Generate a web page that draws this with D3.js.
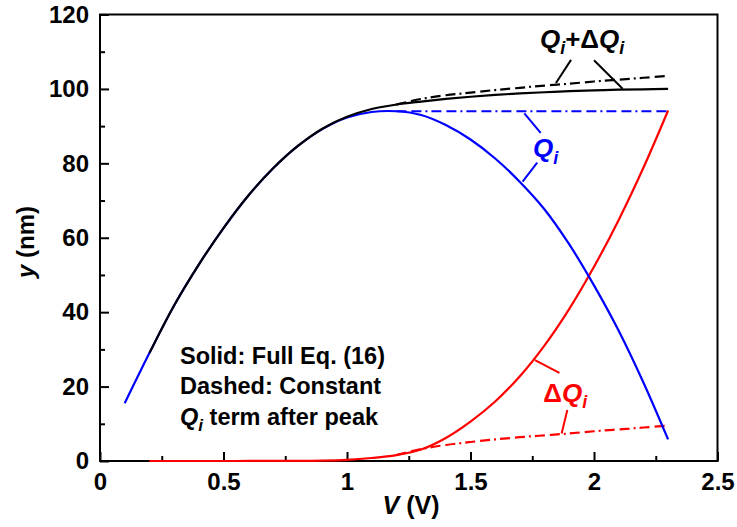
<!DOCTYPE html>
<html>
<head>
<meta charset="utf-8">
<script src="https://cdn.jsdelivr.net/npm/d3@7"></script>
<style>
  html, body { margin: 0; padding: 0; background: #fff; }
  svg { display: block; }
  text { font-family: "Liberation Sans", Arial, Helvetica, sans-serif; font-weight: bold; }
</style>
</head>
<body>
<svg id="chart" width="737" height="527"></svg>
<script>
// Voltage samples (V)
const vAll = [0.1, 0.2, 0.3, 0.4, 0.5, 0.6, 0.7, 0.8, 0.9, 1.0, 1.1, 1.2,
              1.3, 1.4, 1.5, 1.6, 1.7, 1.8, 1.9, 2.0, 2.1, 2.2, 2.3];
const vSum = [0.2, 0.3, 0.4, 0.5, 0.6, 0.7, 0.8, 0.9, 1.0, 1.1, 1.2,
              1.3, 1.4, 1.5, 1.6, 1.7, 1.8, 1.9, 2.0, 2.1, 2.2, 2.3];
const vPeak = [1.2, 1.3, 1.4, 1.5, 1.6, 1.7, 1.8, 1.9, 2.0, 2.1, 2.2, 2.3];

// Q_i term, full Eq. (16)  (nm)
const qi = [15.5, 29.0, 41.8, 52.8, 62.6, 71.3, 78.6, 84.6, 89.2, 92.3, 93.8, 94.0,
            93.0, 90.3, 86.4, 81.3, 75.0, 67.6, 58.2, 47.2, 35.0, 21.1, 5.8];
// ΔQ_i term, full Eq. (16)
const dqi = [0.0, 0.0, 0.0, 0.0, 0.01, 0.02, 0.05, 0.1, 0.3, 0.8, 1.6,
             3.1, 6.2, 10.6, 16.0, 22.8, 31.1, 40.9, 52.2, 64.8, 78.8, 94.2];
// Q_i + ΔQ_i, full Eq. (16)
const total = [29.0, 41.8, 52.8, 62.6, 71.3, 78.6, 84.6, 89.3, 92.5, 94.6, 95.8,
               96.6, 97.3, 97.9, 98.4, 98.8, 99.1, 99.4, 99.6, 99.8, 99.9, 100.0];

// Constant Q_i after the peak
const vConst = [1.2, 2.3];
const qiConst = [94.0, 94.0];
const dqiConst = [1.6, 3.2, 4.3, 5.1, 5.8, 6.4, 6.9, 7.4, 8.0, 8.5, 9.0, 9.5];
const totalConst = [95.8, 97.3, 98.3, 99.0, 99.7, 100.3, 100.9, 101.4, 102.0, 102.5, 103.0, 103.5];

// Axis ticks
const xTicks = [0, 0.5, 1, 1.5, 2, 2.5];
const xMinor = [0.25, 0.75, 1.25, 1.75, 2.25];
const yTicks = [0, 20, 40, 60, 80, 100, 120];
const yMinor = [10, 30, 50, 70, 90, 110];

const svg = d3.select("#chart");
const plotL = 100, plotR = 717.5, plotT = 14.5, plotB = 461;

const x = d3.scaleLinear().domain([0, 2.5]).range([plotL, plotR]);
const y = d3.scaleLinear().domain([0, 120]).range([plotB, plotT]);

const pts = (xs, ys) => xs.map((v, i) => [v, ys[i]]);
const line = d3.line().x(d => x(d[0])).y(d => y(d[1])).curve(d3.curveCatmullRom.alpha(0.5));
const dash = "10,5,10,4,2,4";

function curve(data, color, dashed) {
  svg.append("path")
    .attr("d", line(data))
    .attr("fill", "none")
    .attr("stroke", color)
    .attr("stroke-width", 2.2)
    .attr("stroke-dasharray", dashed ? dash : null)
    .attr("stroke-linejoin", "round");
}

// Axes: ticks point inward, labels outside
const xAxis = svg.append("g").attr("transform", `translate(0,${plotB})`)
  .call(d3.axisBottom(x).tickValues(xTicks).tickSizeInner(-9).tickSizeOuter(0)
        .tickPadding(12).tickFormat(d3.format("")));
const xAxisMinor = svg.append("g").attr("transform", `translate(0,${plotB})`)
  .call(d3.axisBottom(x).tickValues(xMinor).tickSizeInner(-5).tickSizeOuter(0).tickFormat(""));
const yAxis = svg.append("g").attr("transform", `translate(${plotL},0)`)
  .call(d3.axisLeft(y).tickValues(yTicks).tickSizeInner(-9).tickSizeOuter(0)
        .tickPadding(11).tickFormat(d3.format("")));
const yAxisMinor = svg.append("g").attr("transform", `translate(${plotL},0)`)
  .call(d3.axisLeft(y).tickValues(yMinor).tickSizeInner(-5).tickSizeOuter(0).tickFormat(""));

[xAxis, xAxisMinor, yAxis, yAxisMinor].forEach(g => {
  g.select(".domain").remove();
  g.selectAll(".tick line").attr("stroke", "#000").attr("stroke-width", 2);
  g.selectAll(".tick text").attr("fill", "#000")
    .style("font-size", "24px").style("font-weight", "bold")
    .style("font-family", '"Liberation Sans", Arial, Helvetica, sans-serif');
});

// Plot frame
svg.append("rect")
  .attr("x", plotL).attr("y", plotT)
  .attr("width", plotR - plotL).attr("height", plotB - plotT)
  .attr("fill", "none").attr("stroke", "#000").attr("stroke-width", 2);

// Curves
curve(pts(vSum, dqi), "#ff0000", false);
curve(pts(vPeak, dqiConst), "#ff0000", true);
curve(pts(vAll, qi), "#0000ff", false);
curve(pts(vConst, qiConst), "#0000ff", true);
curve(pts(vSum, total), "#000000", false);
curve(pts(vPeak, totalConst), "#000000", true);

// Axis titles
const xTitle = svg.append("text")
  .attr("x", 411).attr("y", 514)
  .attr("text-anchor", "middle").style("font-size", "25px");
xTitle.append("tspan").style("font-style", "italic").text("V");
xTitle.append("tspan").text(" (V)");

const yTitle = svg.append("text")
  .attr("transform", "translate(34,242) rotate(-90)")
  .attr("text-anchor", "middle").style("font-size", "24px");
yTitle.append("tspan").style("font-style", "italic").text("y");
yTitle.append("tspan").text(" (nm)");

// Curve labels with leader lines (data coordinates)
function leader(a, b, color) {
  svg.append("line")
    .attr("x1", x(a[0])).attr("y1", y(a[1]))
    .attr("x2", x(b[0])).attr("y2", y(b[1]))
    .attr("stroke", color).attr("stroke-width", 2);
}

function label(vx, vy, color, parts) {
  const t = svg.append("text").attr("x", x(vx)).attr("y", y(vy))
    .attr("fill", color).style("font-size", "26px");
  parts.forEach(p => {
    const s = t.append("tspan").text(p.t);
    if (p.it) s.style("font-style", "italic");
    if (p.sub) s.attr("dy", p.sub).style("font-size", "18px");
    if (p.up) s.attr("dy", p.up);
  });
  return t;
}

// Q_i + ΔQ_i
label(1.781, 110.9, "#000", [
  {t: "Q", it: true}, {t: "i", it: true, sub: 6}, {t: "+Δ", up: -6},
  {t: "Q", it: true}, {t: "i", it: true, sub: 6}
]);
leader([1.907, 107.8], [1.846, 101.6], "#000");
leader([2.000, 107.7], [2.116, 100.05], "#000");

// Q_i
label(1.753, 81.7, "#0000ff", [{t: "Q", it: true}, {t: "i", it: true, sub: 7}]);
leader([1.718, 93.45], [1.784, 88.2], "#0000ff");
leader([1.770, 80.2], [1.711, 75.1], "#0000ff");

// ΔQ_i
label(1.795, 15.9, "#ff0000", [{t: "Δ"}, {t: "Q", it: true}, {t: "i", it: true, sub: 6}]);
leader([1.761, 27.1], [1.860, 23.7], "#ff0000");
leader([1.892, 13.7], [1.869, 7.4], "#ff0000");

// Note
const note = svg.append("g").style("font-size", "23.5px");
note.append("text").attr("x", x(0.324)).attr("y", y(26.0)).text("Solid: Full Eq. (16)");
note.append("text").attr("x", x(0.324)).attr("y", y(17.9)).text("Dashed: Constant");
const n3 = note.append("text").attr("x", x(0.324)).attr("y", y(9.7));
n3.append("tspan").style("font-style", "italic").text("Q");
n3.append("tspan").style("font-style", "italic").style("font-size", "17px").attr("dy", 6).text("i");
n3.append("tspan").attr("dy", -6).text(" term after peak");
</script>
</body>
</html>
